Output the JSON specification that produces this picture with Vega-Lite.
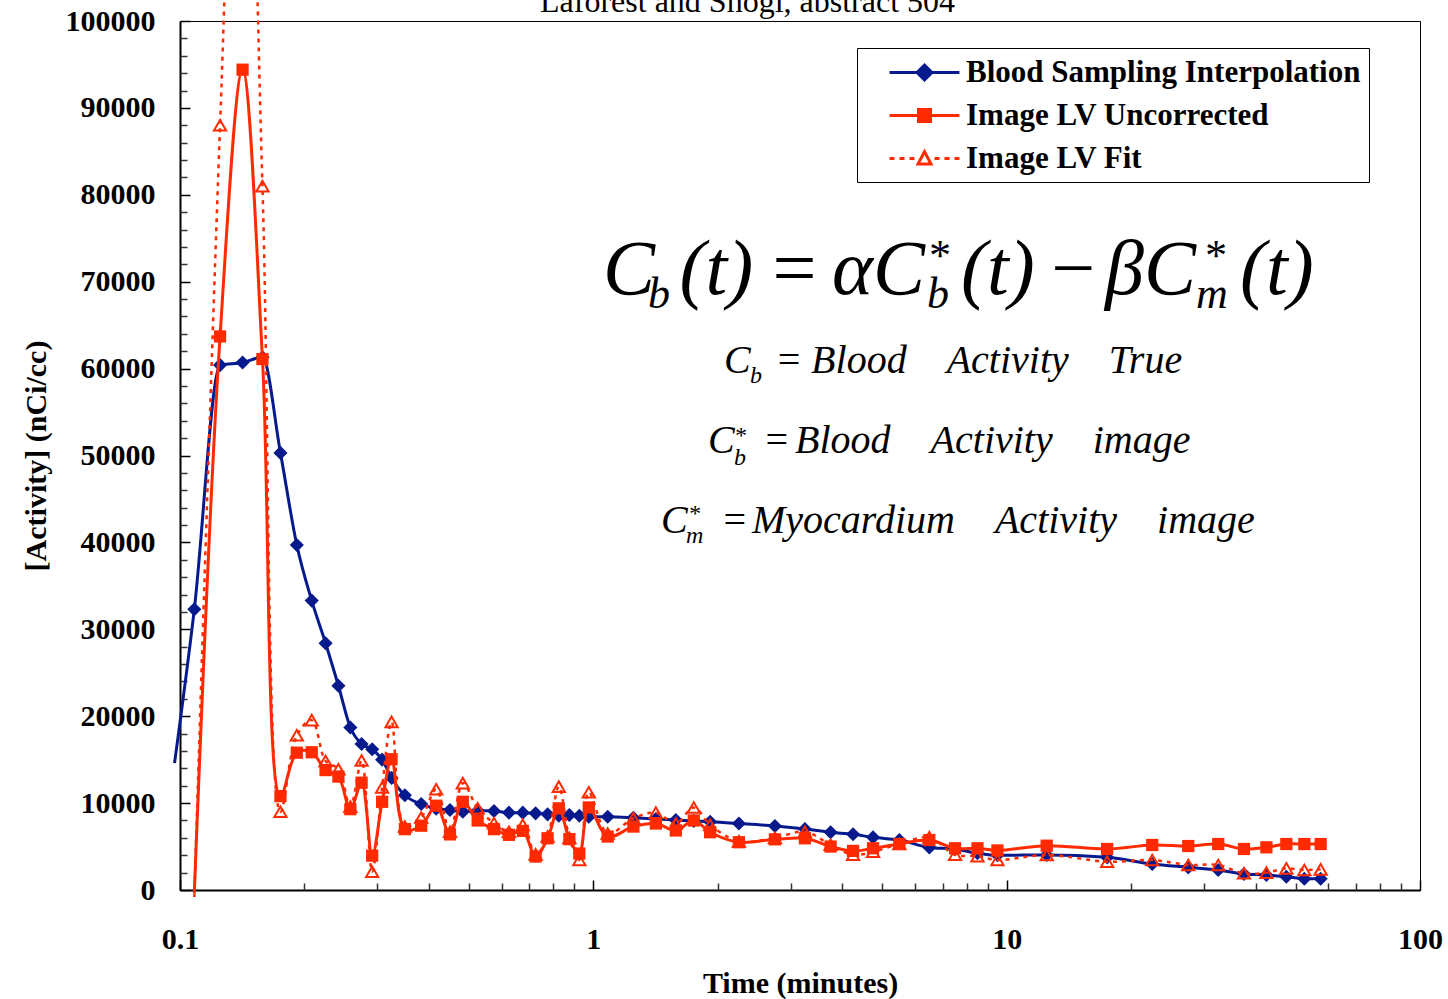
{
  "$schema": "https://vega.github.io/schema/vega-lite/v6.json",
  "width": 1240,
  "height": 869,
  "autosize": {"type": "none"},
  "padding": {"left": 180, "top": 21, "right": 28, "bottom": 109},
  "background": "white",
  "config": {"view": {"stroke": "#000", "strokeWidth": 1}, "font": "Liberation Serif", "axis": {"grid": false}},
  "datasets": {
    "blood": [
      {"t":0.097,"v":14600},{"t":0.1083,"v":32300},{"t":0.125,"v":60400},{"t":0.1417,"v":60700},{"t":0.1583,"v":61300},{"t":0.175,"v":50300},{"t":0.1917,"v":39700},{"t":0.2083,"v":33300},{"t":0.225,"v":28400},{"t":0.2417,"v":23500},{"t":0.2583,"v":18700},{"t":0.275,"v":16800},{"t":0.2917,"v":16200},{"t":0.3083,"v":15000},{"t":0.325,"v":12900},{"t":0.35,"v":10900},{"t":0.3833,"v":9900},{"t":0.4167,"v":9350},{"t":0.45,"v":9200},{"t":0.4833,"v":9000},{"t":0.525,"v":9150},{"t":0.575,"v":9090},{"t":0.625,"v":8900},{"t":0.675,"v":8900},{"t":0.725,"v":8820},{"t":0.775,"v":8710},{"t":0.825,"v":8550},{"t":0.875,"v":8630},{"t":0.925,"v":8550},{"t":0.975,"v":8430},{"t":1.0833,"v":8430},{"t":1.25,"v":8320},{"t":1.4167,"v":8170},{"t":1.5833,"v":8050},{"t":1.75,"v":7950},{"t":1.9167,"v":7860},{"t":2.25,"v":7650},{"t":2.75,"v":7360},{"t":3.25,"v":7020},{"t":3.75,"v":6640},{"t":4.25,"v":6410},{"t":4.75,"v":6060},{"t":5.5,"v":5750},{"t":6.5,"v":4900},{"t":7.5,"v":4700},{"t":8.5,"v":4250},{"t":9.5,"v":4000},{"t":12.5,"v":4030},{"t":17.5,"v":3760},{"t":22.5,"v":2990},{"t":27.5,"v":2610},{"t":32.5,"v":2300},{"t":37.5,"v":1840},{"t":42.5,"v":1730},{"t":47.5,"v":1530},{"t":52.5,"v":1300},{"t":57.5,"v":1300}
    ],
    "unc": [
      {"t":0.1083,"v":-350},{"t":0.125,"v":63700},{"t":0.1417,"v":94400},{"t":0.1583,"v":61100},{"t":0.175,"v":10800},{"t":0.1917,"v":15800},{"t":0.2083,"v":15850},{"t":0.225,"v":13800},{"t":0.2417,"v":13050},{"t":0.2583,"v":9300},{"t":0.275,"v":12350},{"t":0.2917,"v":3950},{"t":0.3083,"v":10150},{"t":0.325,"v":15050},{"t":0.35,"v":7000},{"t":0.3833,"v":7400},{"t":0.4167,"v":9700},{"t":0.45,"v":6400},{"t":0.4833,"v":10150},{"t":0.525,"v":8000},{"t":0.575,"v":7000},{"t":0.625,"v":6350},{"t":0.675,"v":6800},{"t":0.725,"v":3850},{"t":0.775,"v":5950},{"t":0.825,"v":9400},{"t":0.875,"v":5850},{"t":0.925,"v":4200},{"t":0.975,"v":9500},{"t":1.0833,"v":6150},{"t":1.25,"v":7300},{"t":1.4167,"v":7650},{"t":1.5833,"v":6850},{"t":1.75,"v":8000},{"t":1.9167,"v":6650},{"t":2.25,"v":5500},{"t":2.75,"v":5830},{"t":3.25,"v":5950},{"t":3.75,"v":5000},{"t":4.25,"v":4500},{"t":4.75,"v":4800},{"t":5.5,"v":5300},{"t":6.5,"v":5750},{"t":7.5,"v":4800},{"t":8.5,"v":4800},{"t":9.5,"v":4550},{"t":12.5,"v":5100},{"t":17.5,"v":4720},{"t":22.5,"v":5180},{"t":27.5,"v":5060},{"t":32.5,"v":5290},{"t":37.5,"v":4720},{"t":42.5,"v":4910},{"t":47.5,"v":5290},{"t":52.5,"v":5290},{"t":57.5,"v":5290}
    ],
    "fit": [
      {"t":0.1083,"v":-800},{"t":0.125,"v":88000},{"t":0.1417,"v":150000},{"t":0.1583,"v":81000},{"t":0.175,"v":9000},{"t":0.1917,"v":17800},{"t":0.2083,"v":19550},{"t":0.225,"v":14850},{"t":0.2417,"v":13900},{"t":0.2583,"v":9600},{"t":0.275,"v":14900},{"t":0.2917,"v":2100},{"t":0.3083,"v":11800},{"t":0.325,"v":19350},{"t":0.35,"v":7300},{"t":0.3833,"v":8350},{"t":0.4167,"v":11600},{"t":0.45,"v":6700},{"t":0.4833,"v":12300},{"t":0.525,"v":9400},{"t":0.575,"v":7700},{"t":0.625,"v":6700},{"t":0.675,"v":7500},{"t":0.725,"v":4100},{"t":0.775,"v":6150},{"t":0.825,"v":11900},{"t":0.875,"v":6000},{"t":0.925,"v":3450},{"t":0.975,"v":11250},{"t":1.0833,"v":6500},{"t":1.25,"v":8250},{"t":1.4167,"v":8900},{"t":1.5833,"v":7650},{"t":1.75,"v":9500},{"t":1.9167,"v":7500},{"t":2.25,"v":5600},{"t":2.75,"v":6000},{"t":3.25,"v":6700},{"t":3.75,"v":5200},{"t":4.25,"v":4050},{"t":4.75,"v":4400},{"t":5.5,"v":5300},{"t":6.5,"v":6050},{"t":7.5,"v":4050},{"t":8.5,"v":3900},{"t":9.5,"v":3450},{"t":12.5,"v":4030},{"t":17.5,"v":3260},{"t":22.5,"v":3450},{"t":27.5,"v":2880},{"t":32.5,"v":2880},{"t":37.5,"v":1920},{"t":42.5,"v":2000},{"t":47.5,"v":2490},{"t":52.5,"v":2300},{"t":57.5,"v":2370}
    ],
    "series": [
      {"series": "Blood Sampling Interpolation"},
      {"series": "Image LV Uncorrected"},
      {"series": "Image LV Fit"}
    ],
    "heading": [
      {"txt": "Laforest and Shogi, abstract 504", "t": 2.361, "v": 101030}
    ],
    "eq": [
      {"txt":"C","t":1.0555,"v":68580,"k":"big"},
      {"txt":"(t)","t":1.6165,"v":68580,"k":"big"},
      {"txt":"=","t":2.6389,"v":68580,"k":"big"},
      {"txt":"αC","t":3.781,"v":68580,"k":"big"},
      {"txt":"(t)","t":7.7579,"v":68580,"k":"big"},
      {"txt":"−","t":12.475,"v":68580,"k":"big"},
      {"txt":"βC","t":17.305,"v":68580,"k":"big"},
      {"txt":"(t)","t":36.706,"v":68580,"k":"big"},
      {"txt":"b","t":1.3565,"v":66970,"k":"bigscript"},
      {"txt":"b","t":6.4188,"v":66970,"k":"bigscript"},
      {"txt":"m","t":28.727,"v":66970,"k":"bigscript"},
      {"txt":"*","t":6.4188,"v":71400,"k":"bigscript"},
      {"txt":"*","t":29.87,"v":71400,"k":"bigscript"},
      {"txt":"C","t":2.0713,"v":59530,"k":"mid"},
      {"txt":"b","t":2.3939,"v":58340,"k":"midscript"},
      {"txt":"=","t":2.7541,"v":59530,"k":"mid"},
      {"txt":"Blood\u2003Activity\u2003True","t":3.3637,"v":59530,"k":"mid"},
      {"txt":"C","t":1.8948,"v":50290,"k":"mid"},
      {"txt":"b","t":2.1894,"v":48900,"k":"midscript"},
      {"txt":"*","t":2.1894,"v":51440,"k":"midscript"},
      {"txt":"=","t":2.5738,"v":50290,"k":"mid"},
      {"txt":"Blood\u2003Activity\u2003image","t":3.0761,"v":50290,"k":"mid"},
      {"txt":"C","t":1.4581,"v":41080,"k":"mid"},
      {"txt":"m","t":1.6759,"v":39930,"k":"midscript"},
      {"txt":"*","t":1.6947,"v":42460,"k":"midscript"},
      {"txt":"=","t":2.0374,"v":41080,"k":"mid"},
      {"txt":"Myocardium\u2003Activity\u2003image","t":2.4207,"v":41080,"k":"mid"}
    ]
  },
  "resolve": {"axis": {"x": "independent", "y": "independent"}, "scale": {"shape": "independent", "fill": "independent", "stroke": "independent"}},
  "layer": [
    {
      "data": {"name": "heading"},
      "mark": {"type": "text", "align": "center", "baseline": "alphabetic", "font": "Liberation Serif", "fontSize": 32, "color": "#000"},
      "encoding": {
        "x": {"field": "t", "type": "quantitative", "scale": {"type": "log", "domain": [0.1, 100], "nice": false}, "axis": null},
        "y": {"field": "v", "type": "quantitative", "scale": {"domain": [0, 100000], "nice": false, "zero": false}, "axis": null},
        "text": {"field": "txt"}
      }
    },
    {
      "data": {"name": "eq"},
      "transform": [{"filter": "datum.k == 'big'"}],
      "mark": {"type": "text", "align": "left", "baseline": "alphabetic", "font": "Liberation Serif", "fontStyle": "italic", "fontSize": 78, "color": "#000"},
      "encoding": {
        "x": {"field": "t", "type": "quantitative", "axis": null},
        "y": {"field": "v", "type": "quantitative", "axis": null},
        "text": {"field": "txt"}
      }
    },
    {
      "data": {"name": "eq"},
      "transform": [{"filter": "datum.k == 'bigscript'"}],
      "mark": {"type": "text", "align": "left", "baseline": "alphabetic", "font": "Liberation Serif", "fontStyle": "italic", "fontSize": 44, "color": "#000"},
      "encoding": {
        "x": {"field": "t", "type": "quantitative", "axis": null},
        "y": {"field": "v", "type": "quantitative", "axis": null},
        "text": {"field": "txt"}
      }
    },
    {
      "data": {"name": "eq"},
      "transform": [{"filter": "datum.k == 'mid'"}],
      "mark": {"type": "text", "align": "left", "baseline": "alphabetic", "font": "Liberation Serif", "fontStyle": "italic", "fontSize": 40, "color": "#000"},
      "encoding": {
        "x": {"field": "t", "type": "quantitative", "axis": null},
        "y": {"field": "v", "type": "quantitative", "axis": null},
        "text": {"field": "txt"}
      }
    },
    {
      "data": {"name": "eq"},
      "transform": [{"filter": "datum.k == 'midscript'"}],
      "mark": {"type": "text", "align": "left", "baseline": "alphabetic", "font": "Liberation Serif", "fontStyle": "italic", "fontSize": 24, "color": "#000"},
      "encoding": {
        "x": {"field": "t", "type": "quantitative", "axis": null},
        "y": {"field": "v", "type": "quantitative", "axis": null},
        "text": {"field": "txt"}
      }
    },
    {
      "data": {"name": "blood"},
      "mark": {"type": "line", "interpolate": "monotone", "color": "#061a8e", "strokeWidth": 3},
      "encoding": {
        "x": {"field": "t", "type": "quantitative",
          "axis": {"orient": "bottom", "values": [0.1, 1, 10, 100], "format": "~g", "ticks": false, "domain": false, "grid": false, "labelFont": "Liberation Serif", "labelFontSize": 30, "labelFontWeight": "bold", "labelColor": "#000", "labelPadding": 34, "labelFlush": false, "labelOverlap": false, "title": "Time (minutes)", "titleFont": "Liberation Serif", "titleFontSize": 30, "titleFontWeight": "bold", "titleColor": "#000", "titlePadding": 14}},
        "y": {"field": "v", "type": "quantitative",
          "axis": {"orient": "left", "values": [0, 10000, 20000, 30000, 40000, 50000, 60000, 70000, 80000, 90000, 100000], "format": "d", "ticks": false, "domain": false, "grid": false, "labelFont": "Liberation Serif", "labelFontSize": 30, "labelFontWeight": "bold", "labelColor": "#000", "labelPadding": 25, "labelFlush": false, "labelOverlap": false, "title": "[Activity] (nCi/cc)", "titleFont": "Liberation Serif", "titleFontSize": 30, "titleFontWeight": "bold", "titleColor": "#000", "titlePadding": 14}}
      }
    },
    {
      "data": {"name": "blood"},
      "transform": [{"filter": "datum.t >= 0.1 && datum.v >= 0 && datum.v <= 100000"}],
      "mark": {"type": "point", "shape": "diamond", "filled": true, "size": 200, "color": "#061a8e", "opacity": 1},
      "encoding": {
        "x": {"field": "t", "type": "quantitative",
          "axis": {"orient": "bottom", "values": [0.1, 1, 10, 100], "labels": false, "ticks": true, "tickSize": -10, "tickColor": "#000", "tickWidth": 1.5, "domain": true, "domainColor": "#000", "domainWidth": 2, "grid": false, "title": null}},
        "y": {"field": "v", "type": "quantitative",
          "axis": {"orient": "left", "values": [0, 10000, 20000, 30000, 40000, 50000, 60000, 70000, 80000, 90000, 100000], "labels": false, "ticks": true, "tickSize": -10, "tickColor": "#000", "tickWidth": 1.5, "domain": true, "domainColor": "#000", "domainWidth": 2, "grid": false, "title": null}}
      }
    },
    {
      "data": {"name": "unc"},
      "mark": {"type": "line", "interpolate": "catmull-rom", "color": "#ff2a00", "strokeWidth": 3},
      "encoding": {
        "x": {"field": "t", "type": "quantitative",
          "axis": {"orient": "bottom", "values": [0.2, 0.3, 0.4, 0.5, 0.6, 0.7, 0.8, 0.9, 2, 3, 4, 5, 6, 7, 8, 9, 20, 30, 40, 50, 60, 70, 80, 90], "labels": false, "ticks": true, "tickSize": -7, "tickColor": "#333", "tickWidth": 1.5, "domain": false, "grid": false, "title": null}},
        "y": {"field": "v", "type": "quantitative",
          "axis": {"orient": "left", "values": [2000, 4000, 6000, 8000, 12000, 14000, 16000, 18000, 22000, 24000, 26000, 28000, 32000, 34000, 36000, 38000, 42000, 44000, 46000, 48000, 52000, 54000, 56000, 58000, 62000, 64000, 66000, 68000, 72000, 74000, 76000, 78000, 82000, 84000, 86000, 88000, 92000, 94000, 96000, 98000], "labels": false, "ticks": true, "tickSize": -7, "tickColor": "#333", "tickWidth": 1.5, "domain": false, "grid": false, "title": null}}
      }
    },
    {
      "data": {"name": "unc"},
      "transform": [{"filter": "datum.t >= 0.1 && datum.v >= 0 && datum.v <= 100000"}],
      "mark": {"type": "point", "shape": "square", "filled": true, "size": 150, "color": "#ff2a00", "opacity": 1},
      "encoding": {
        "x": {"field": "t", "type": "quantitative", "axis": null},
        "y": {"field": "v", "type": "quantitative", "axis": null}
      }
    },
    {
      "data": {"name": "fit"},
      "mark": {"type": "line", "interpolate": "catmull-rom", "color": "#ff2a00", "strokeWidth": 2.5, "strokeDash": [4, 5]},
      "encoding": {
        "x": {"field": "t", "type": "quantitative", "axis": null},
        "y": {"field": "v", "type": "quantitative", "axis": null}
      }
    },
    {
      "data": {"name": "fit"},
      "transform": [{"filter": "datum.t >= 0.1 && datum.v >= 0 && datum.v <= 100000"}],
      "mark": {"type": "point", "shape": "triangle-up", "filled": false, "size": 150, "color": "#ff2a00", "strokeWidth": 2, "opacity": 1},
      "encoding": {
        "x": {"field": "t", "type": "quantitative", "axis": null},
        "y": {"field": "v", "type": "quantitative", "axis": null}
      }
    },
    {
      "data": {"name": "series"},
      "transform": [{"filter": "false"}],
      "mark": {"type": "point", "filled": true, "opacity": 1, "strokeWidth": 3},
      "encoding": {
        "shape": {"field": "series", "type": "nominal",
          "scale": {"domain": ["Blood Sampling Interpolation", "Image LV Uncorrected", "Image LV Fit"], "range": ["M-2.33,0H2.33M-0.5,0L0,-0.5L0.5,0L0,0.5Z", "M-2.33,0H2.33M-0.4,-0.4H0.4V0.4H-0.4Z", "M-2.33,0H-2M-1.67,0H-1.33M-1,0H-0.67M0.67,0H1M1.33,0H1.67M2,0H2.33M0,-0.45L0.43,0.36L-0.43,0.36Z"]},
          "legend": {"orient": "none", "legendX": 677, "legendY": 27, "title": null, "symbolSize": 900, "symbolStrokeWidth": 3, "symbolOffset": 43, "labelOffset": 25, "padding": 8, "rowPadding": 11, "strokeColor": "#000", "fillColor": "#fff", "labelFont": "Liberation Serif", "labelFontSize": 31, "labelFontWeight": "bold", "labelColor": "#000", "labelLimit": 700}},
        "fill": {"field": "series", "type": "nominal",
          "scale": {"domain": ["Blood Sampling Interpolation", "Image LV Uncorrected", "Image LV Fit"], "range": ["#061a8e", "#ff2a00", "transparent"]},
          "legend": {"orient": "none", "legendX": 677, "legendY": 27, "title": null, "symbolSize": 900, "symbolStrokeWidth": 3, "symbolOffset": 43, "labelOffset": 25, "padding": 8, "rowPadding": 11, "strokeColor": "#000", "fillColor": "#fff", "labelFont": "Liberation Serif", "labelFontSize": 31, "labelFontWeight": "bold", "labelColor": "#000", "labelLimit": 700}},
        "stroke": {"field": "series", "type": "nominal",
          "scale": {"domain": ["Blood Sampling Interpolation", "Image LV Uncorrected", "Image LV Fit"], "range": ["#061a8e", "#ff2a00", "#ff2a00"]},
          "legend": {"orient": "none", "legendX": 677, "legendY": 27, "title": null, "symbolSize": 900, "symbolStrokeWidth": 3, "symbolOffset": 43, "labelOffset": 25, "padding": 8, "rowPadding": 11, "strokeColor": "#000", "fillColor": "#fff", "labelFont": "Liberation Serif", "labelFontSize": 31, "labelFontWeight": "bold", "labelColor": "#000", "labelLimit": 700}}
      }
    }
  ]
}
